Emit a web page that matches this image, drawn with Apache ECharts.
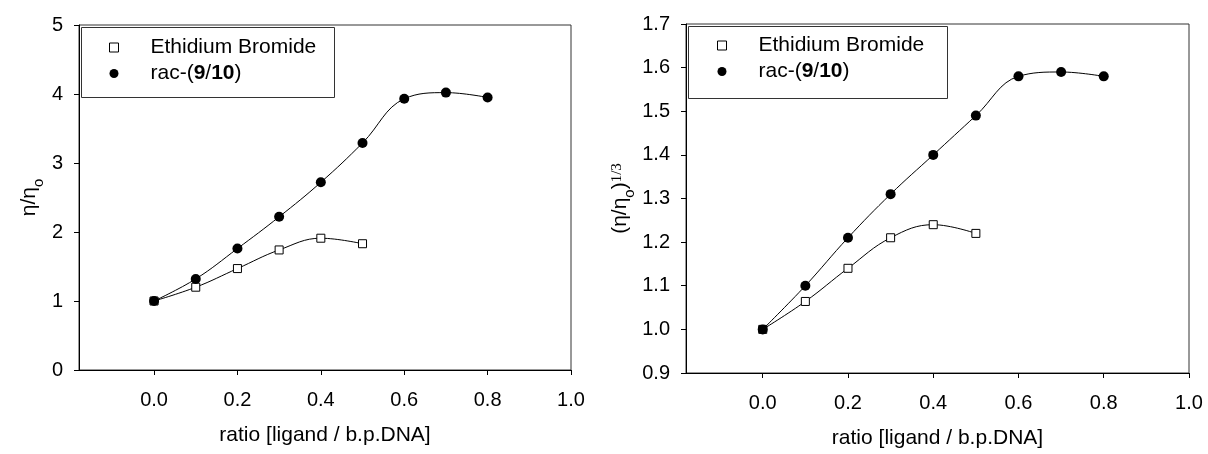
<!DOCTYPE html>
<html>
<head>
<meta charset="utf-8">
<script src="https://cdn.jsdelivr.net/npm/echarts@6/dist/echarts.min.js"></script>
<style>
  html, body { margin: 0; padding: 0; background: #fff; }
  #main { width: 1208px; height: 454px; }
</style>
</head>
<body>
<div id="main"></div>
<script>
// viscosity titration: ethidium bromide vs rac-(9/10)
var ebRatio = [0, 0.1, 0.2, 0.3, 0.4, 0.5];
var racRatio = [0, 0.1, 0.2, 0.3, 0.4, 0.5, 0.6, 0.7, 0.8];

var ebRel = [1.0, 1.2, 1.47, 1.74, 1.91, 1.83];
var racRel = [1.0, 1.32, 1.76, 2.22, 2.72, 3.29, 3.93, 4.02, 3.95];

var ebCube = [1.0, 1.064, 1.14, 1.21, 1.24, 1.22];
var racCube = [1.0, 1.10, 1.21, 1.31, 1.40, 1.49, 1.58, 1.59, 1.58];

var xTicks = [0, 0.2, 0.4, 0.6, 0.8, 1.0];
var yTicksLeft = [0, 1, 2, 3, 4, 5];
var yTicksRight = [0.9, 1.0, 1.1, 1.2, 1.3, 1.4, 1.5, 1.6, 1.7];

var FONT = "Liberation Sans";

function pairs(xs, ys) {
  return xs.map(function (x, i) { return [x, ys[i]]; });
}

document.addEventListener("DOMContentLoaded", function () {
  var chartDom = document.getElementById("main");
  var myChart = echarts.init(chartDom);

  function xAxis(gi) {
    return {
      type: "value",
      gridIndex: gi,
      min: -0.18,
      max: 1.0,
      name: "ratio [ligand / b.p.DNA]",
      nameLocation: "middle",
      nameGap: 55,
      nameTextStyle: { fontFamily: FONT, fontSize: 21, color: "#000" },
      axisLine: { onZero: false, lineStyle: { color: "#000", width: 1 } },
      axisTick: { customValues: xTicks, length: 5, lineStyle: { color: "#000" } },
      axisLabel: {
        customValues: xTicks,
        margin: 20,
        fontFamily: FONT,
        fontSize: 20,
        color: "#000",
        formatter: function (v) { return v.toFixed(1); }
      },
      splitLine: { show: false }
    };
  }

  function yAxis(gi, ticks, digits, name, gap, rich) {
    return {
      type: "value",
      gridIndex: gi,
      min: ticks[0],
      max: ticks[ticks.length - 1],
      name: name,
      nameLocation: "middle",
      nameGap: gap,
      nameTextStyle: { fontFamily: FONT, fontSize: 21, color: "#000", rich: rich },
      axisLine: { show: true, onZero: false, lineStyle: { color: "#000", width: 1 } },
      axisTick: { customValues: ticks, length: 5, lineStyle: { color: "#000" } },
      axisLabel: {
        customValues: ticks,
        margin: 16,
        fontFamily: FONT,
        fontSize: 20,
        color: "#000",
        formatter: function (v) { return v.toFixed(digits); }
      },
      splitLine: { show: false }
    };
  }

  var nameRich = {
    m: { fontFamily: FONT, fontSize: 21, color: "#000", lineHeight: 24, verticalAlign: "top" },
    s: { fontFamily: FONT, fontSize: 15, color: "#000", lineHeight: 14, padding: [12, 0, 0, 0], verticalAlign: "top" },
    p: { fontFamily: "Liberation Serif", fontSize: 15, color: "#000", lineHeight: 14, padding: [0, 0, 12, 0], verticalAlign: "top" }
  };

  function legend(left, top) {
    return {
      left: left,
      top: top,
      orient: "vertical",
      padding: 0,
      itemWidth: 9,
      itemHeight: 9,
      itemGap: 3,
      selectedMode: false,
      data: [
        { name: "Ethidium Bromide", icon: "rect", itemStyle: { color: "#fff", borderColor: "#000", borderWidth: 1 } },
        { name: "rac-(9/10)", icon: "circle", itemStyle: { color: "#000", borderColor: "#000", borderWidth: 0 } }
      ],
      formatter: function (n) {
        return n === "rac-(9/10)" ? "rac-({b|9}/{b|10})" : n;
      },
      textStyle: {
        fontFamily: FONT,
        fontSize: 21,
        color: "#000",
        lineHeight: 23,
        padding: [0, 0, 0, 27],
        rich: { b: { fontFamily: FONT, fontSize: 21, fontWeight: "bold", color: "#000", lineHeight: 23 } }
      }
    };
  }

  function series(name, xi, data, open) {
    return {
      name: name,
      type: "line",
      xAxisIndex: xi,
      yAxisIndex: xi,
      data: data,
      smooth: 0.4,
      symbol: open ? "rect" : "circle",
      symbolSize: open ? 8 : 10,
      showAllSymbol: true,
      z: open ? 2 : 3,
      lineStyle: { color: "#000", width: 1 },
      itemStyle: open
        ? { color: "#fff", borderColor: "#000", borderWidth: 1 }
        : { color: "#000", borderColor: "#000", borderWidth: 0 },
      emphasis: { disabled: true }
    };
  }

  var option = {
    animation: false,
    backgroundColor: "#fff",
    grid: [
      { left: 79, top: 25, width: 492, height: 345, show: true, borderColor: "#333", borderWidth: 1 },
      { left: 686, top: 24, width: 503, height: 352, show: true, borderColor: "#333", borderWidth: 1 }
    ],
    xAxis: [xAxis(0), xAxis(1)],
    yAxis: [
      yAxis(0, yTicksLeft, 0, "{m|η/η}{s|o}", 36, nameRich),
      yAxis(1, yTicksRight, 1, "{m|(η/η}{s|o}{m|)}{p|1/3}", 52, nameRich)
    ],
    legend: [legend(109, 36), legend(717, 34)],
    graphic: [
      { type: "rect", left: 79, top: 25, shape: { width: 253, height: 70 }, style: { fill: "none", stroke: "#333", lineWidth: 1 }, z: 100 },
      { type: "rect", left: 686, top: 24, shape: { width: 259, height: 72 }, style: { fill: "none", stroke: "#333", lineWidth: 1 }, z: 100 }
    ],
    series: [
      series("Ethidium Bromide", 0, pairs(ebRatio, ebRel), true),
      series("rac-(9/10)", 0, pairs(racRatio, racRel), false),
      series("Ethidium Bromide", 1, pairs(ebRatio, ebCube), true),
      series("rac-(9/10)", 1, pairs(racRatio, racCube), false)
    ]
  };

  myChart.setOption(option);
});
</script>
</body>
</html>
